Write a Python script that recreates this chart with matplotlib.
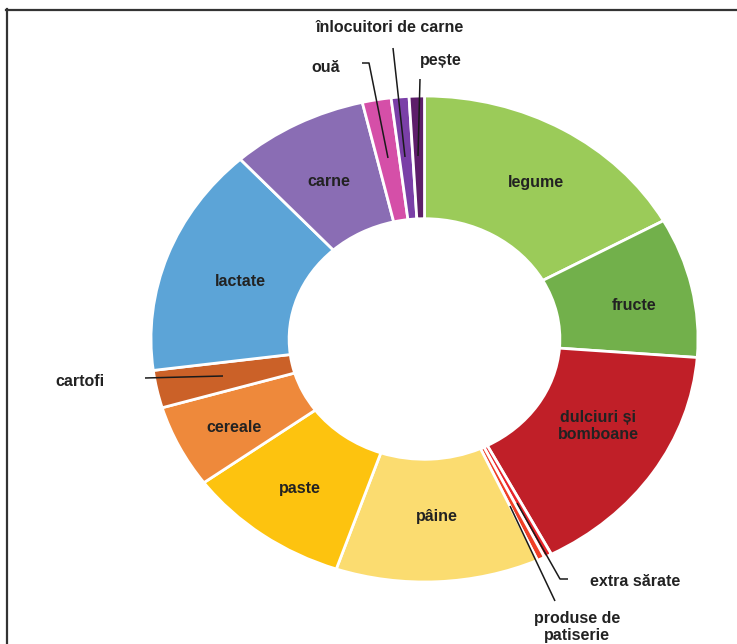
import matplotlib.pyplot as plt
from matplotlib.lines import Line2D

# food groups, clockwise from 12 o'clock (share of total, %)
categories = ['legume', 'fructe', 'dulciuri și\nbomboane', 'extra sărate',
              'produse de\npatiserie', 'pâine', 'paste', 'cereale', 'cartofi',
              'lactate', 'carne', 'ouă', 'înlocuitori de carne', 'pește']
shares = [16.9, 9.3, 16.1, 0.45, 0.45, 12.0, 9.7, 5.5, 2.5, 15.3, 8.1, 1.7, 1.05, 0.9]
colors = ['#9bcb59', '#72b04b', '#c01f28', '#e8252b', '#ef3f25', '#fbdc70',
          '#fdc30f', '#ee893b', '#cb6128', '#5ca4d7', '#8a6db4', '#d54fa8',
          '#7a3fa7', '#5d1e6a']

# centre of the ring and its (horizontal, vertical) radii in pixels
CX, CY, RX, RY = 424.5, 339, 273.5, 243
W, H = 737, 644


def px(x, y):
    """pixel position -> data units (ring centred at 0, outer radius 1)"""
    return (x - CX) / RX, (CY - y) / RY


fig = plt.figure(figsize=(W / 100, H / 100), dpi=100)
ax = fig.add_axes([0, 0, 1, 1])
ax.pie(shares, colors=colors, startangle=90, counterclock=False, radius=1,
       wedgeprops=dict(width=0.505, edgecolor='white', linewidth=2))
ax.set_aspect('auto')
ax.set_xlim(-CX / RX, (W - CX) / RX)
ax.set_ylim((CY - H) / RY, CY / RY)
ax.axis('off')

font = dict(family='Liberation Sans', fontweight='bold', fontsize=11.5,
            color='#222222', ha='center', va='center', linespacing=1.2)

# labels placed inside the ring
inside = {'legume': (536, 183), 'fructe': (634, 306),
          'dulciuri și\nbomboane': (598, 426), 'pâine': (437, 516),
          'paste': (300, 489), 'cereale': (234, 427), 'lactate': (240, 281),
          'carne': (329, 182)}
for name, pos in inside.items():
    ax.text(*px(*pos), name, **font)

# labels outside, with leader lines
outside = {'cartofi': (80, 382), 'ouă': (326, 67),
           'înlocuitori de carne': (390, 28), 'pește': (441, 60),
           'extra sărate': (635, 582), 'produse de\npatiserie': (577, 627)}
for name, pos in outside.items():
    ax.text(*px(*pos), name, **font)

leaders = [
    [(145, 378), (223, 376)],
    [(362, 63), (369, 63), (388, 158)],
    [(393, 48), (405, 157)],
    [(420, 79), (418, 156)],
    [(517, 503), (560, 579), (568, 579)],
    [(510, 506), (555, 601)],
]
for pts in leaders:
    xs, ys = zip(*[px(*p) for p in pts])
    ax.plot(xs, ys, color='#1a1a1a', lw=1.1, solid_capstyle='butt')

# frame along the top and left edges
fig.add_artist(Line2D([6 / W, 1], [1 - 9.5 / H] * 2, color='#333333', lw=1.6,
                      transform=fig.transFigure))
fig.add_artist(Line2D([7 / W] * 2, [0, 1 - 9 / H], color='#333333', lw=1.6,
                      transform=fig.transFigure))

fig.savefig('out.png', dpi=100, facecolor='white')
